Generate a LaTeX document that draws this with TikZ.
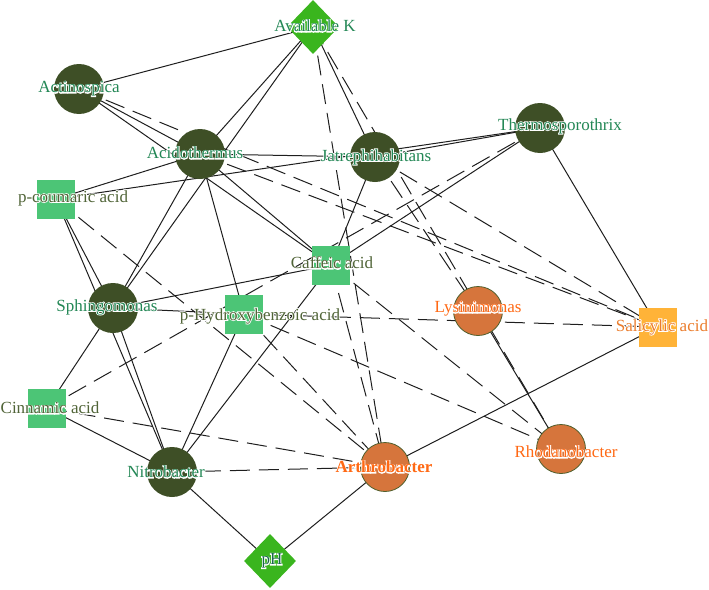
\documentclass[tikz,border=0pt]{standalone}
\usepackage{fontspec}
\setmainfont{Liberation Serif}
\usetikzlibrary{shapes.geometric,backgrounds}
\definecolor{darkc}{RGB}{62,79,38}
\definecolor{orangec}{RGB}{214,117,60}
\definecolor{orangeb}{RGB}{80,95,45}
\definecolor{sqgreen}{RGB}{76,197,118}
\definecolor{sqorange}{RGB}{255,179,56}
\definecolor{diag}{RGB}{58,181,30}
\definecolor{lblgreen}{RGB}{35,135,85}
\definecolor{lblolive}{RGB}{80,100,55}
\definecolor{lblorange}{RGB}{255,105,20}
\definecolor{lblsal}{RGB}{235,125,45}
\definecolor{lblph}{RGB}{25,105,75}
\definecolor{edgec}{RGB}{30,30,30}
\newcommand\halotext[1]{\leavevmode\rlap{\special{pdf:code q 1 1 1 RG 1 1 1 rg 2 Tr 1.6 w}#1\special{pdf:code 0 Tr Q}}#1}
\tikzset{
  bact/.style={circle,fill=darkc,minimum size=50pt,inner sep=0pt},
  obact/.style={circle,fill=orangec,draw=orangeb,line width=0.8pt,minimum size=49pt,inner sep=0pt},
  acidsq/.style={rectangle,fill=sqgreen,minimum width=38pt,minimum height=39pt,inner sep=0pt},
  salsq/.style={rectangle,fill=sqorange,minimum width=38pt,minimum height=39pt,inner sep=0pt},
  envd/.style={diamond,fill=diag,minimum width=52pt,minimum height=54pt,inner sep=0pt},
  lbl/.style={font=\fontsize{17}{20}\selectfont,inner sep=0pt},
  posedge/.style={draw=edgec,line width=1pt},
  negedge/.style={draw=edgec,line width=1pt,dash pattern=on 20pt off 9pt},
}
\begin{document}
\begin{tikzpicture}[x=1pt,y=-1pt]
\useasboundingbox (0,0) rectangle (709,589);
% nodes
\node[envd] (ak) at (313,27) {};
\node[envd] (ph) at (270,561) {};
\node[bact] (act) at (79,89) {};
\node[bact] (acid) at (200,154) {};
\node[bact] (jat) at (375,157) {};
\node[bact] (thermo) at (540,128) {};
\node[bact] (sph) at (113,308) {};
\node[bact] (nit) at (172,472) {};
\node[obact] (lys) at (478,311) {};
\node[obact] (arth) at (385,467) {};
\node[obact] (rho) at (561,449) {};
\node[acidsq] (pc) at (56,199) {};
\node[acidsq] (caf) at (331,265) {};
\node[acidsq] (phb) at (244,314) {};
\node[acidsq] (cin) at (47,408) {};
\node[salsq] (sal) at (658,327) {};
% edges
\begin{scope}[on background layer]
\draw[posedge] (ak.center) -- (act.center);
\draw[posedge] (ak.center) -- (acid.center);
\draw[posedge] (ak.center) -- (sph.center);
\draw[posedge] (ak.center) -- (jat.center);
\draw[posedge] (act.center) -- (acid.center);
\draw[posedge] (act.center) -- (caf.center);
\draw[posedge] (acid.center) -- (jat.center);
\draw[posedge] (acid.center) -- (pc.center);
\draw[posedge] (acid.center) -- (caf.center);
\draw[posedge] (acid.center) -- (sph.center);
\draw[posedge] (acid.center) -- (phb.center);
\draw[posedge] (pc.center) -- (thermo.center);
\draw[posedge] (jat.center) -- (thermo.center);
\draw[posedge] (jat.center) -- (caf.center);
\draw[posedge] (thermo.center) -- (caf.center);
\draw[posedge] (thermo.center) -- (sal.center);
\draw[posedge] (sph.center) -- (phb.center);
\draw[posedge] (sph.center) -- (caf.center);
\draw[posedge] (sph.center) -- (nit.center);
\draw[posedge] (pc.center) -- (sph.center);
\draw[posedge] (pc.center) -- (nit.center);
\draw[posedge] (sph.center) -- (cin.center);
\draw[posedge] (cin.center) -- (nit.center);
\draw[posedge] (phb.center) -- (nit.center);
\draw[posedge] (caf.center) -- (nit.center);
\draw[posedge] (nit.center) -- (ph.center);
\draw[posedge] (arth.center) -- (ph.center);
\draw[posedge] (arth.center) -- (sal.center);
\draw[posedge] (lys.center) -- (rho.center);
\draw[negedge] (act.center) -- (sal.center);
\draw[negedge] (acid.center) -- (sal.center);
\draw[negedge] (jat.center) -- (sal.center);
\draw[negedge] (jat.center) -- (lys.center);
\draw[negedge] (ak.center) -- (rho.center);
\draw[negedge] (ak.center) -- (arth.center);
\draw[negedge] (caf.center) -- (arth.center);
\draw[negedge] (pc.center) -- (arth.center);
\draw[negedge] (phb.center) -- (arth.center);
\draw[negedge] (cin.center) -- (arth.center);
\draw[negedge] (nit.center) -- (arth.center);
\draw[negedge] (thermo.center) -- (cin.center);
\draw[negedge] (caf.center) -- (rho.center);
\draw[negedge] (phb.center) -- (rho.center);
\draw[negedge] (phb.center) -- (sal.center);
\end{scope}
% labels
\node[lbl,text=lblgreen] (tak) at (315,26) {\halotext{Available K}};
\node[lbl,text=lblph] (tph) at (272,561) {\halotext{pH}};
\node[lbl,text=lblgreen] (tact) at (79,89) {\halotext{Actinospica}};
\node[lbl,text=lblgreen] (tacid) at (195,153) {\halotext{Acidothermus}};
\node[lbl,text=lblgreen] (tjat) at (376,157) {\halotext{Jatrephihabitans}};
\node[lbl,text=lblgreen] (tthermo) at (560,126) {\halotext{Thermosporothrix}};
\node[lbl,text=lblgreen] (tsph) at (107,307) {\halotext{Sphingomonas}};
\node[lbl,text=lblgreen] (tnit) at (166,472) {\halotext{Nitrobacter}};
\node[lbl,text=lblorange] (tlys) at (478,309) {\halotext{Lysinimonas}};
\node[lbl,text=lblorange,font=\fontsize{17}{20}\selectfont\bfseries] (tarth) at (384,467) {\halotext{Arthrobacter}};
\node[lbl,text=lblorange] (trho) at (566,452) {\halotext{Rhodanobacter}};
\node[lbl,text=lblolive] (tpc) at (73,198) {\halotext{p-coumaric acid}};
\node[lbl,text=lblolive] (tcaf) at (332,263) {\halotext{Caffeic acid}};
\node[lbl,text=lblolive] (tphb) at (260,316) {\halotext{p-Hydroxybenzoic acid}};
\node[lbl,text=lblolive] (tcin) at (50,408) {\halotext{Cinnamic acid}};
\node[lbl,text=lblsal] (tsal) at (662,327) {\halotext{Salicylic acid}};
\end{tikzpicture}
\end{document}
